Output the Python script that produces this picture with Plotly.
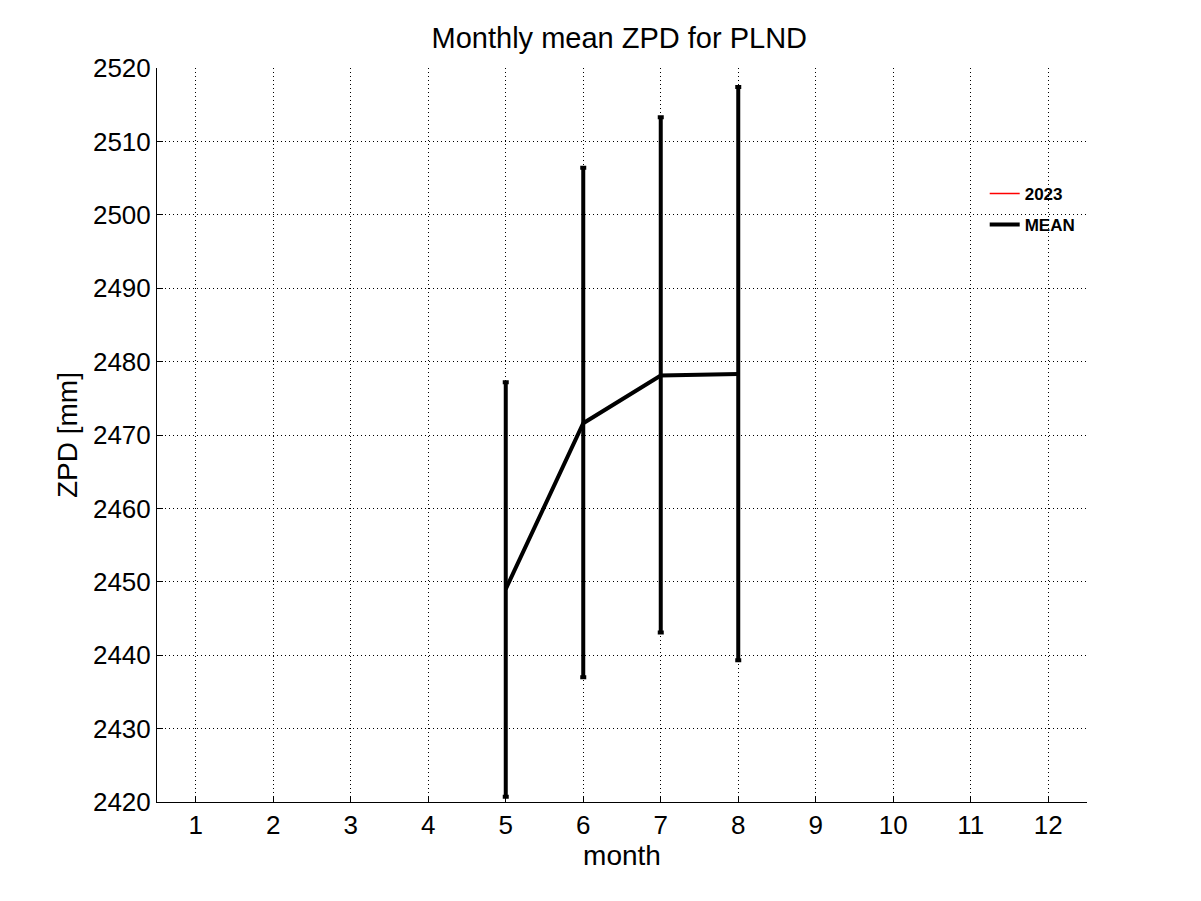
import plotly.graph_objects as go

months = [5, 6, 7, 8]
mean_zpd = [2449.0, 2471.6, 2478.1, 2478.3]
upper = [2477.2, 2506.4, 2513.3, 2517.4]
lower = [2420.7, 2437.0, 2443.1, 2439.3]
tick_months = list(range(1, 13))
y_ticks = list(range(2420, 2521, 10))

err_plus = [u - m for u, m in zip(upper, mean_zpd)]
err_minus = [m - l for m, l in zip(mean_zpd, lower)]

fig = go.Figure()
fig.add_trace(go.Scatter(
    x=[None], y=[None], mode="lines", name="2023", legendgroup="a",
    line=dict(color="red", width=1.5),
))
fig.add_trace(go.Scatter(
    x=months, y=mean_zpd, mode="lines", name="MEAN", legendgroup="b",
    line=dict(color="black", width=4),
    error_y=dict(type="data", symmetric=False, array=err_plus, arrayminus=err_minus,
                 color="black", thickness=4, width=3),
))

fig.update_layout(
    width=1201, height=901,
    paper_bgcolor="white", plot_bgcolor="white",
    margin=dict(l=149, r=122, t=60, b=107),
    title=dict(text="Monthly mean ZPD for PLND", x=0.509, xanchor="center", y=0.967, yanchor="middle",
               font=dict(family="Arial, Liberation Sans", size=29, color="black")),
    font=dict(family="Arial, Liberation Sans", color="black"),
    showlegend=True,
    legend=dict(x=0.89, y=0.853, xanchor="left", yanchor="top", bgcolor="rgba(0,0,0,0)",
                font=dict(family="Arial, Liberation Sans", size=17, color="black", weight="bold"),
                tracegroupgap=6),
)
fig.update_xaxes(
    range=[0.5, 12.5], tickmode="array", tickvals=tick_months,
    ticktext=[str(m) for m in tick_months],
    showgrid=True, gridcolor="black", griddash="1px,3px", gridwidth=1,
    showline=True, linecolor="black", linewidth=1, mirror=False,
    ticks="inside", ticklen=6, tickcolor="black",
    tickfont=dict(size=26), zeroline=False,
    title=dict(text="month", font=dict(size=28), standoff=6),
)
fig.update_yaxes(
    range=[2420, 2520], tickmode="array", tickvals=y_ticks,
    showgrid=True, gridcolor="black", griddash="1px,3px", gridwidth=1,
    showline=True, linecolor="black", linewidth=1, mirror=False,
    ticks="inside", ticklen=6, tickcolor="black",
    tickfont=dict(size=26), zeroline=False,
    title=dict(text="ZPD [mm]", font=dict(size=28), standoff=7),
)

fig.write_html("out.html")
